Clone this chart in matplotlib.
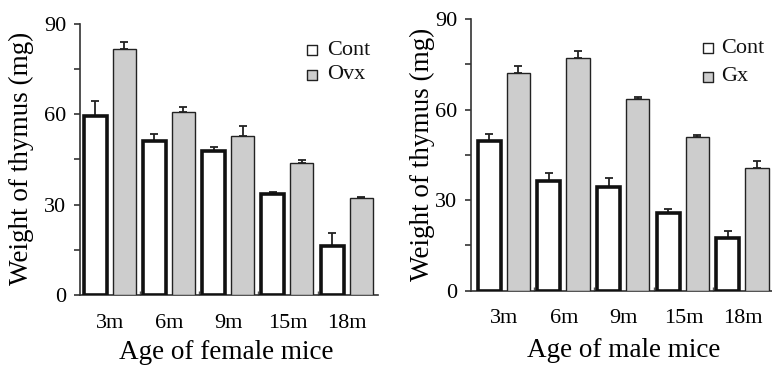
"""Thymus weight by age, female and male mice."""

import numpy as np
import matplotlib

matplotlib.use("Agg")
import matplotlib.pyplot as plt

ages = ["3m", "6m", "9m", "15m", "18m"]

female_cont = [59.5, 51.2, 47.9, 33.4, 16.3]
female_cont_err = [4.9, 2.3, 1.4, 0.7, 4.2]
female_ovx = [81.7, 60.9, 52.8, 43.9, 32.3]
female_ovx_err = [2.4, 1.4, 3.2, 0.9, 0.1]

male_cont = [49.6, 36.4, 34.5, 25.8, 17.6]
male_cont_err = [2.2, 2.7, 2.7, 1.3, 2.3]
male_gx = [72.2, 77.0, 63.5, 50.9, 40.6]
male_gx_err = [2.3, 2.4, 0.8, 0.8, 2.5]

plt.rcParams["font.family"] = ["Liberation Serif", "DejaVu Serif"]
plt.rcParams["text.color"] = "#111111"

GRAY = "#cdcdcd"
EDGE = "#222222"


def draw_panel(ax, cont, cont_err, treat, treat_err, treat_name, xlabel, xlim, legend_xy, label_xy, xpad):
    x = np.arange(len(ages))
    w = 0.39
    xc = x + 0.245
    xt = x + 0.735
    zeros = np.zeros(len(ages))
    ax.bar(xc, cont, w, color="white", edgecolor="#111111", linewidth=2.6, zorder=3)
    ax.bar(xt, treat, w, color=GRAY, edgecolor=EDGE, linewidth=1.0, zorder=3)
    ekw = dict(fmt="none", ecolor=EDGE, elinewidth=1.3, capsize=3.2, capthick=1.3, zorder=2)
    ax.errorbar(xc, cont, yerr=[zeros, cont_err], **ekw)
    ax.errorbar(xt, treat, yerr=[zeros, treat_err], **ekw)

    ax.set_xlim(*xlim)
    ax.set_ylim(0, 90)
    for side in ("top", "right"):
        ax.spines[side].set_visible(False)
    for side in ("left", "bottom"):
        ax.spines[side].set_color("#333333")
        ax.spines[side].set_linewidth(1.2)

    ax.set_yticks([0, 30, 60, 90])
    ax.set_yticks([15, 45, 75], minor=True)
    ax.tick_params(axis="y", which="both", direction="out", length=4, width=1.2,
                   color="#333333", labelsize=16, pad=6)

    # labels at group centres, small marks at group boundaries
    ax.set_xticks(x + 0.5)
    ax.set_xticklabels(ages)
    ax.set_xticks(np.arange(1, len(ages)), minor=True)
    ax.tick_params(axis="x", which="major", length=0, labelsize=16, pad=xpad)
    ax.tick_params(axis="x", which="minor", direction="in", length=3, width=1.0, color="#555555")

    ax.set_ylabel("Weight of thymus (mg)", fontsize=19.5)
    ax.yaxis.set_label_coords(*label_xy[0])
    ax.set_xlabel(xlabel, fontsize=19.5)
    ax.xaxis.set_label_coords(*label_xy[1])

    lx, ly, dy, tx = legend_xy
    for i, (name, fc) in enumerate([("Cont", "white"), (treat_name, GRAY)]):
        yy = ly - i * dy
        ax.scatter([lx], [yy], s=60, marker="s", facecolor=fc, edgecolor=EDGE,
                   linewidth=1.0, transform=ax.transAxes, clip_on=False, zorder=4)
        ax.text(tx, yy, name, fontsize=16, va="center", ha="left", transform=ax.transAxes)


fig = plt.figure(figsize=(7.72, 3.67), dpi=100)
ax1 = fig.add_axes([0.1036, 0.1962, 0.386, 0.7384])
ax2 = fig.add_axes([0.6101, 0.2079, 0.3899, 0.7403])

draw_panel(ax1, female_cont, female_cont_err, female_ovx, female_ovx_err, "Ovx",
           "Age of female mice", (-0.01, 5.02), (0.778, 0.904, 0.092, 0.828),
           ((-0.155, 0.505), (0.49, -0.165)), 14)
draw_panel(ax2, male_cont, male_cont_err, male_gx, male_gx_err, "Gx",
           "Age of male mice", (-0.06, 4.985), (0.787, 0.893, 0.105, 0.830),
           ((-0.118, 0.50), (0.507, -0.175)), 13)

fig.savefig("out.png", dpi=100)
plt.close(fig)
